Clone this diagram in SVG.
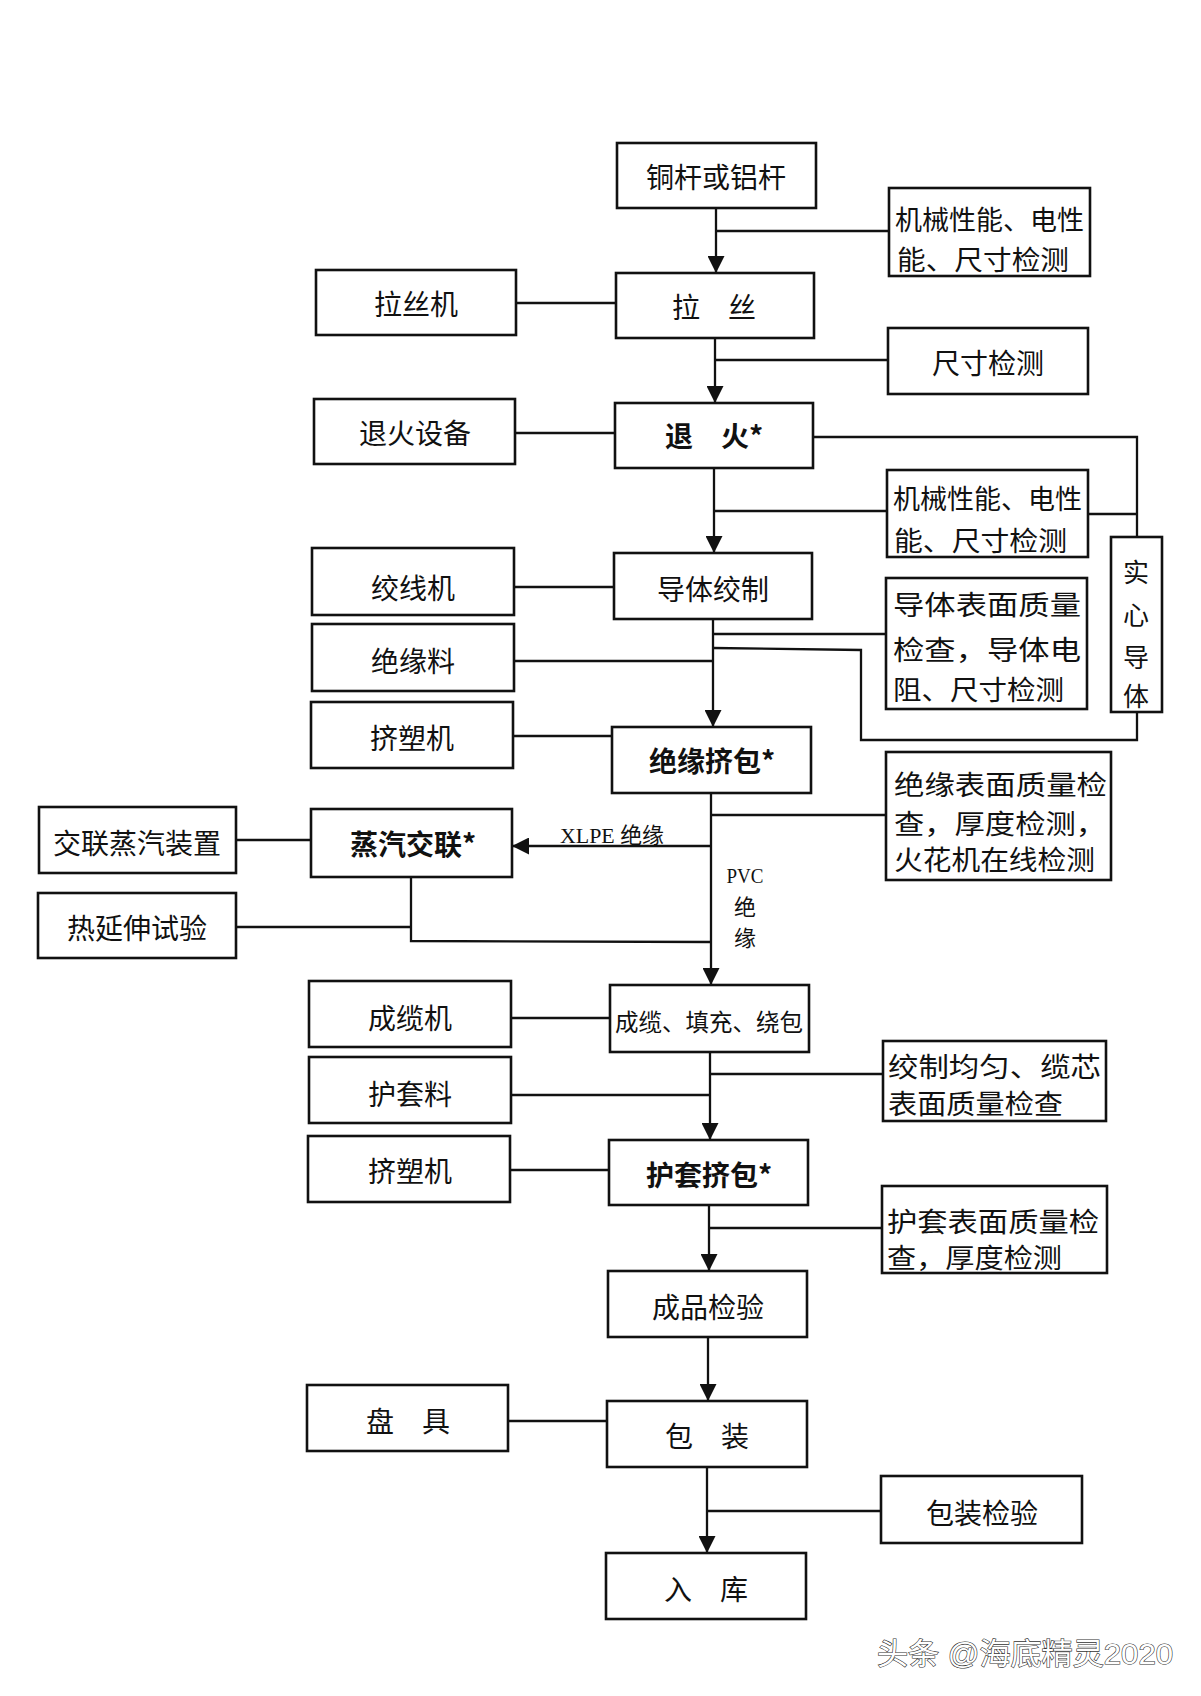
<svg xmlns="http://www.w3.org/2000/svg" width="1201" height="1696" viewBox="0 0 1201 1696">
<style>
  .box{fill:#fff;stroke:#111;stroke-width:2.6}
  .ln{fill:none;stroke:#111;stroke-width:2.3}
  .t{font-family:"Noto Sans CJK SC","Noto Sans CJK TC",sans-serif;font-size:28px;fill:#111;text-anchor:middle;dominant-baseline:central}
  .tl{font-family:"Noto Sans CJK SC","Noto Sans CJK TC",sans-serif;font-size:27px;fill:#111;text-anchor:start;dominant-baseline:central}
  .b{font-weight:700}
  .sm{font-size:23.5px}
  .vt{font-size:26px}
  .lab{font-family:"Liberation Serif","Noto Sans CJK SC",serif;font-size:22px;fill:#111;dominant-baseline:central}
  .wm{font-family:"Liberation Sans","Noto Sans CJK SC",sans-serif;font-size:30px;fill:#fff;stroke:#333;stroke-width:1.2;paint-order:stroke;dominant-baseline:central}
</style>
<defs>
  <marker id="arr" viewBox="0 0 16 16" refX="16" refY="8" markerWidth="17" markerHeight="17" markerUnits="userSpaceOnUse" orient="auto">
    <path d="M0,0 L16,8 L0,16 z" fill="#111"/>
  </marker>
</defs>
<rect x="0" y="0" width="1201" height="1696" fill="#fff"/>

<g id="connectors">
  <line class="ln" x1="716" y1="208" x2="716" y2="273" marker-end="url(#arr)"/>
  <line class="ln" x1="716" y1="231" x2="889" y2="231"/>
  <line class="ln" x1="516" y1="303" x2="616" y2="303"/>
  <line class="ln" x1="715" y1="338" x2="715" y2="403" marker-end="url(#arr)"/>
  <line class="ln" x1="715" y1="360" x2="888" y2="360"/>
  <line class="ln" x1="515" y1="433" x2="615" y2="433"/>
  <polyline class="ln" points="813,437 1137,437 1137,537"/>
  <line class="ln" x1="714" y1="468" x2="714" y2="553" marker-end="url(#arr)"/>
  <line class="ln" x1="714" y1="511" x2="887" y2="511"/>
  <line class="ln" x1="1088" y1="514" x2="1137" y2="514"/>
  <line class="ln" x1="514" y1="587" x2="614" y2="587"/>
  <line class="ln" x1="713" y1="619" x2="713" y2="727" marker-end="url(#arr)"/>
  <line class="ln" x1="713" y1="634" x2="886" y2="634"/>
  <polyline class="ln" points="713,648 861,650 861,740 1137,740 1137,712"/>
  <line class="ln" x1="514" y1="661" x2="713" y2="661"/>
  <line class="ln" x1="513" y1="736" x2="612" y2="736"/>
  <line class="ln" x1="711" y1="793" x2="711" y2="985" marker-end="url(#arr)"/>
  <line class="ln" x1="711" y1="815" x2="886" y2="815"/>
  <line class="ln" x1="711" y1="846" x2="512" y2="846" marker-end="url(#arr)"/>
  <line class="ln" x1="236" y1="840" x2="311" y2="840"/>
  <polyline class="ln" points="411,877 411,941 711,942"/>
  <line class="ln" x1="236" y1="927" x2="411" y2="927"/>
  <line class="ln" x1="511" y1="1018" x2="610" y2="1018"/>
  <line class="ln" x1="710" y1="1052" x2="710" y2="1140" marker-end="url(#arr)"/>
  <line class="ln" x1="710" y1="1074" x2="883" y2="1074"/>
  <line class="ln" x1="511" y1="1095" x2="710" y2="1095"/>
  <line class="ln" x1="510" y1="1170" x2="609" y2="1170"/>
  <line class="ln" x1="709" y1="1205" x2="709" y2="1271" marker-end="url(#arr)"/>
  <line class="ln" x1="709" y1="1228" x2="882" y2="1228"/>
  <line class="ln" x1="708" y1="1337" x2="708" y2="1401" marker-end="url(#arr)"/>
  <line class="ln" x1="508" y1="1421" x2="607" y2="1421"/>
  <line class="ln" x1="707" y1="1467" x2="707" y2="1553" marker-end="url(#arr)"/>
  <line class="ln" x1="707" y1="1511" x2="881" y2="1511"/>
  <text class="lab" x="560" y="835" textLength="104" lengthAdjust="spacingAndGlyphs">XLPE 绝缘</text>
  <text class="lab" x="745" y="875" text-anchor="middle" textLength="37" lengthAdjust="spacingAndGlyphs">PVC</text>
  <text class="lab" x="745" y="907" text-anchor="middle">绝</text>
  <text class="lab" x="745" y="938" text-anchor="middle">缘</text>
</g>

<g id="n1"><rect class="box" x="617" y="143" width="199" height="65"/><text class="t" x="716" y="176">铜杆或铝杆</text></g>
<g id="c1"><rect class="box" x="889" y="188" width="201" height="88"/>
  <text class="tl" x="895" y="218" textLength="189" lengthAdjust="spacingAndGlyphs">机械性能、电性</text>
  <text class="tl" x="897" y="258" textLength="172" lengthAdjust="spacingAndGlyphs">能、尺寸检测</text></g>
<g id="m1"><rect class="box" x="316" y="270" width="200" height="65"/><text class="t" x="416" y="303">拉丝机</text></g>
<g id="n2"><rect class="box" x="616" y="273" width="198" height="65"/><text class="t" x="714" y="306">拉　丝</text></g>
<g id="c2"><rect class="box" x="888" y="328" width="200" height="66"/><text class="t" x="988" y="362">尺寸检测</text></g>
<g id="m2"><rect class="box" x="314" y="399" width="201" height="65"/><text class="t" x="415" y="432">退火设备</text></g>
<g id="n3"><rect class="box" x="615" y="403" width="198" height="65"/><text class="t b" x="714" y="435">退　火*</text></g>
<g id="c3"><rect class="box" x="887" y="470" width="201" height="87"/>
  <text class="tl" x="893" y="497" textLength="189" lengthAdjust="spacingAndGlyphs">机械性能、电性</text>
  <text class="tl" x="894" y="539" textLength="173" lengthAdjust="spacingAndGlyphs">能、尺寸检测</text></g>
<g id="s1"><rect class="box" x="1111" y="537" width="51" height="175"/>
  <text class="t vt"><tspan x="1136" y="570">实</tspan><tspan x="1136" y="613">心</tspan><tspan x="1136" y="655">导</tspan><tspan x="1136" y="694">体</tspan></text></g>
<g id="m3"><rect class="box" x="312" y="548" width="202" height="67"/><text class="t" x="413" y="587">绞线机</text></g>
<g id="n4"><rect class="box" x="614" y="553" width="198" height="66"/><text class="t" x="713" y="588">导体绞制</text></g>
<g id="c4"><rect class="box" x="886" y="578" width="201" height="131"/>
  <text class="tl" x="893" y="603" textLength="188" lengthAdjust="spacingAndGlyphs">导体表面质量</text>
  <text class="tl" x="893" y="648" textLength="188" lengthAdjust="spacingAndGlyphs">检查，导体电</text>
  <text class="tl" x="893" y="688" textLength="171" lengthAdjust="spacingAndGlyphs">阻、尺寸检测</text></g>
<g id="m4"><rect class="box" x="312" y="624" width="202" height="67"/><text class="t" x="413" y="660">绝缘料</text></g>
<g id="m5"><rect class="box" x="311" y="702" width="202" height="66"/><text class="t" x="412" y="737">挤塑机</text></g>
<g id="n5"><rect class="box" x="612" y="727" width="199" height="66"/><text class="t b" x="712" y="760">绝缘挤包*</text></g>
<g id="c5"><rect class="box" x="886" y="752" width="225" height="128"/>
  <text class="tl" x="894" y="783" textLength="213" lengthAdjust="spacingAndGlyphs">绝缘表面质量检</text>
  <text class="tl" x="894" y="822" textLength="212" lengthAdjust="spacingAndGlyphs">查，厚度检测，</text>
  <text class="tl" x="894" y="858" textLength="201" lengthAdjust="spacingAndGlyphs">火花机在线检测</text></g>
<g id="m6"><rect class="box" x="39" y="807" width="197" height="66"/><text class="t" x="137" y="842">交联蒸汽装置</text></g>
<g id="n6"><rect class="box" x="311" y="809" width="201" height="68"/><text class="t b" x="413" y="843">蒸汽交联*</text></g>
<g id="m7"><rect class="box" x="38" y="893" width="198" height="65"/><text class="t" x="137" y="927">热延伸试验</text></g>
<g id="m8"><rect class="box" x="309" y="981" width="202" height="66"/><text class="t" x="410" y="1017">成缆机</text></g>
<g id="n7"><rect class="box" x="610" y="985" width="199" height="67"/><text class="t sm" x="709" y="1021">成缆、填充、绕包</text></g>
<g id="c6"><rect class="box" x="883" y="1041" width="223" height="80"/>
  <text class="tl" x="888" y="1065" textLength="213" lengthAdjust="spacingAndGlyphs">绞制均匀、缆芯</text>
  <text class="tl" x="888" y="1102" textLength="175" lengthAdjust="spacingAndGlyphs">表面质量检查</text></g>
<g id="m9"><rect class="box" x="309" y="1057" width="202" height="66"/><text class="t" x="410" y="1093">护套料</text></g>
<g id="m10"><rect class="box" x="308" y="1136" width="202" height="66"/><text class="t" x="410" y="1170">挤塑机</text></g>
<g id="n8"><rect class="box" x="609" y="1140" width="199" height="65"/><text class="t b" x="709" y="1174">护套挤包*</text></g>
<g id="c7"><rect class="box" x="882" y="1186" width="225" height="87"/>
  <text class="tl" x="887" y="1220" textLength="212" lengthAdjust="spacingAndGlyphs">护套表面质量检</text>
  <text class="tl" x="887" y="1256" textLength="175" lengthAdjust="spacingAndGlyphs">查，厚度检测</text></g>
<g id="n9"><rect class="box" x="608" y="1271" width="199" height="66"/><text class="t" x="708" y="1306">成品检验</text></g>
<g id="m11"><rect class="box" x="307" y="1385" width="201" height="66"/><text class="t" x="408" y="1420">盘　具</text></g>
<g id="n10"><rect class="box" x="607" y="1401" width="200" height="66"/><text class="t" x="707" y="1435">包　装</text></g>
<g id="c8"><rect class="box" x="881" y="1476" width="201" height="67"/><text class="t" x="982" y="1512">包装检验</text></g>
<g id="n11"><rect class="box" x="606" y="1553" width="200" height="66"/><text class="t" x="706" y="1588">入　库</text></g>

<text class="wm" x="877" y="1653" textLength="296" lengthAdjust="spacingAndGlyphs">头条 @海底精灵2020</text>
</svg>
